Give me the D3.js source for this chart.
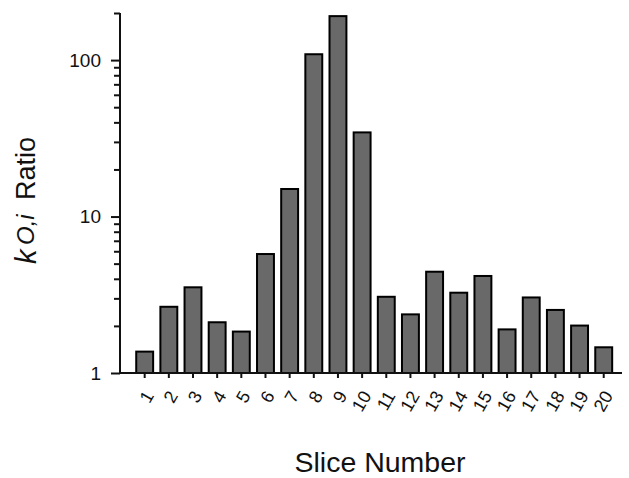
<!DOCTYPE html>
<html>
<head>
<meta charset="utf-8">
<script src="https://cdn.jsdelivr.net/npm/d3@7/dist/d3.min.js"></script>
<style>
  html, body { margin: 0; padding: 0; background: #fff; }
  svg { display: block; font-family: "Liberation Sans", Arial, Helvetica, sans-serif; }
</style>
</head>
<body>
<svg id="chart" width="629" height="478"></svg>
<script>
// Slice numbers along the x axis
const slices = [1, 2, 3, 4, 5, 6, 7, 8, 9, 10, 11, 12, 13, 14, 15, 16, 17, 18, 19, 20];
// k_O,i ratio for each slice
const ratios = [1.37, 2.65, 3.53, 2.11, 1.84, 5.76, 15.0, 109, 191, 34.5,
                3.07, 2.37, 4.44, 3.26, 4.17, 1.90, 3.04, 2.53, 2.01, 1.46];
// Labelled decades and minor ticks on the log axis
const majorTicks = [1, 10, 100];
const minorTicks = [2, 3, 4, 5, 6, 7, 8, 9, 20, 30, 40, 50, 60, 70, 80, 90, 200];

const svg = d3.select("#chart");
const axisX0 = 120, axisX1 = 622;
const ink = "#111";

const y = d3.scaleLog().domain([1, 200]).range([373, 13]);
const x = d3.scaleBand().domain(slices).range([132.6, 615.8])
  .paddingInner(0.3).paddingOuter(0.15);

// Bars
svg.append("g").selectAll("rect")
  .data(slices.map((s, i) => ({ s, v: ratios[i] })))
  .join("rect")
  .attr("x", d => x(d.s))
  .attr("width", x.bandwidth())
  .attr("y", d => y(d.v))
  .attr("height", d => y(1) - y(d.v))
  .attr("fill", "#696969")
  .attr("stroke", "#000")
  .attr("stroke-width", 2);

// Y axis: minor ticks, then labelled decades
const yMinor = svg.append("g").attr("transform", `translate(${axisX0},0)`)
  .call(d3.axisLeft(y).tickValues(minorTicks).tickSize(6).tickFormat(""));
const yMajor = svg.append("g").attr("transform", `translate(${axisX0},0)`)
  .call(d3.axisLeft(y).tickValues(majorTicks).tickSize(9).tickPadding(10)
    .tickFormat(d3.format("d")));
[yMinor, yMajor].forEach(g => {
  g.select(".domain").remove();
  g.selectAll("line").attr("stroke", ink).attr("stroke-width", 2);
});
yMajor.selectAll("text")
  .attr("font-size", 19).attr("fill", ink)
  .attr("font-family", "Liberation Sans, Arial, sans-serif");

svg.append("line")
  .attr("x1", axisX0).attr("x2", axisX0)
  .attr("y1", y(200)).attr("y2", y(1) + 1)
  .attr("stroke", ink).attr("stroke-width", 2);

// X axis
const xAxis = svg.append("g").attr("transform", `translate(0,${y(1)})`)
  .call(d3.axisBottom(x).tickSize(5).tickFormat(""));
xAxis.select(".domain").remove();
xAxis.selectAll("line").attr("stroke", ink).attr("stroke-width", 2);

svg.append("line")
  .attr("x1", axisX0 - 1).attr("x2", axisX1)
  .attr("y1", y(1)).attr("y2", y(1))
  .attr("stroke", ink).attr("stroke-width", 2);

// Rotated slice labels
svg.append("g").selectAll("text")
  .data(slices)
  .join("text")
  .attr("transform", d => `translate(${x(d) + x.bandwidth() / 2 + 4.3},392.5) rotate(-60)`)
  .attr("text-anchor", "end")
  .attr("dy", "0.35em")
  .attr("font-size", 18)
  .attr("fill", ink)
  .text(d => d);

// Axis titles
svg.append("text")
  .attr("x", 380).attr("y", 472)
  .attr("text-anchor", "middle")
  .attr("font-size", 28.5)
  .attr("fill", ink)
  .text("Slice Number");

// Y title: italic k with subscript O,i, followed by "Ratio"
const yTitle = svg.append("g").attr("fill", ink);
yTitle.append("text")
  .attr("transform", "translate(36,264) rotate(-90)")
  .attr("font-size", 29).attr("font-style", "italic").text("k");
yTitle.append("text")
  .attr("transform", "translate(34,245) rotate(-90)")
  .attr("font-size", 24).attr("font-style", "italic").text("O,i");
yTitle.append("text")
  .attr("transform", "translate(35,200) rotate(-90)")
  .attr("font-size", 27).text("Ratio");
</script>
</body>
</html>
